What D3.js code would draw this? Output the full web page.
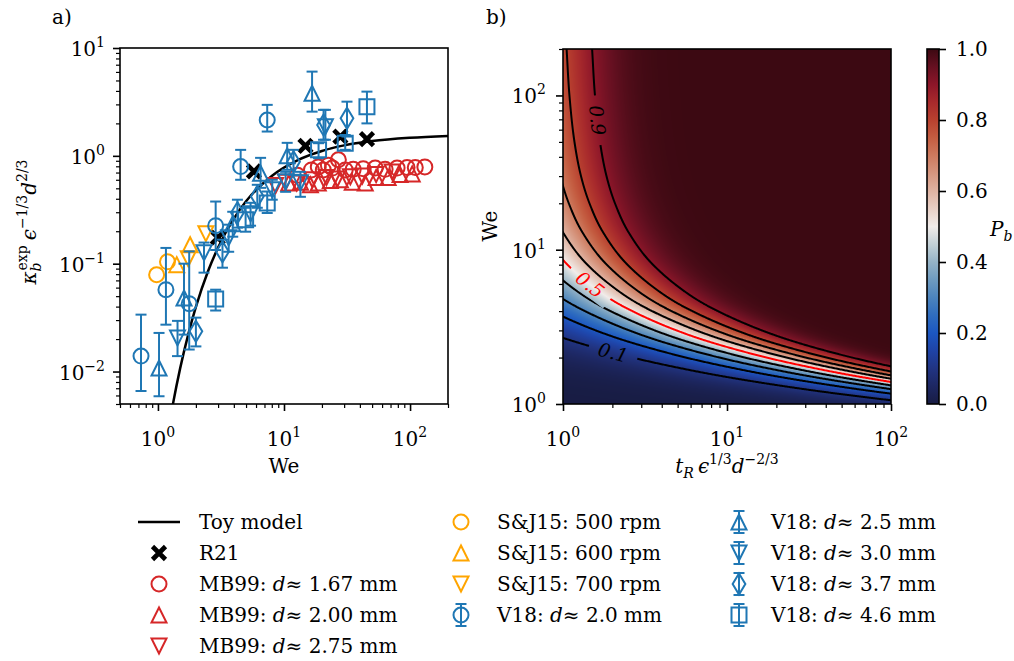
<!DOCTYPE html>
<html>
<head>
<meta charset="utf-8">
<title>Break-up rate and probability</title>
<script src="https://cdn.jsdelivr.net/npm/d3@7"></script>
<style>
  body { margin: 0; background: #fff; }
  svg text { font-family: "DejaVu Serif", "Liberation Serif", serif; fill: #000; }
</style>
</head>
<body>
<svg id="fig" width="1014" height="661" font-family="DejaVu Serif, Liberation Serif, serif"></svg>
<script>
// ---- data ----

// toy model: kappa_b eps^-1/3 d^2/3 against We (black curve)
var toyWe    = [1.0, 1.1, 1.25, 1.5, 1.75, 2, 2.5, 3, 4, 5, 8, 13, 20, 30, 50, 100, 200];
var toyKappa = [0.00066, 0.00144, 0.0036, 0.0107, 0.0227, 0.0397, 0.0855, 0.141, 0.262, 0.379, 0.651, 0.918, 1.11, 1.25, 1.37, 1.47, 1.53];

// R21
var r21 = [[2.98, 0.174], [5.77, 0.716], [14.8, 1.24], [28.0, 1.51], [45.5, 1.43]];

// MB99
var mb167 = [[12.8, 0.66], [16.5, 0.74], [18.7, 0.79], [20.5, 0.74], [22.5, 0.82], [24.2, 0.77], [27.0, 0.92],
             [30.6, 0.74], [35.4, 0.75], [42.5, 0.76], [52.9, 0.77], [63.4, 0.75], [78.9, 0.77], [94.7, 0.78],
             [110, 0.78], [131, 0.79]];
var mb200 = [[10.9, 0.56], [13.5, 0.57], [16.2, 0.54], [18.7, 0.56], [23.3, 0.59], [28.0, 0.60], [34.8, 0.57],
             [44.1, 0.56], [53.8, 0.63], [67.0, 0.63], [83.4, 0.67], [104, 0.68]];
var mb275 = [[8.57, 0.53], [10.3, 0.57], [12.6, 0.56], [16.8, 0.60], [21.7, 0.63], [26.5, 0.61], [33.6, 0.64],
             [41.8, 0.65], [53.8, 0.67], [72.1, 0.71]];

// S&J15
var sj500 = [[0.976, 0.079], [1.19, 0.104]];
var sj600 = [[1.41, 0.098], [1.80, 0.150]];
var sj700 = [[1.74, 0.111], [2.40, 0.19]];

// V18: [We, value, lower, upper]
var v18d20 = [[0.734, 0.0139, 0.0066, 0.0337], [1.157, 0.0574, 0.0272, 0.140], [1.77, 0.0426, 0.0160, 0.130],
              [2.87, 0.225, 0.134, 0.377], [4.53, 0.796, 0.600, 1.136], [7.36, 2.15, 1.68, 2.97]];
var v18d25 = [[1.02, 0.0108, 0.0059, 0.0228], [1.61, 0.0481, 0.0220, 0.100], [3.92, 0.235, 0.178, 0.303],
              [6.52, 0.69, 0.505, 0.958], [10.6, 1.0, 0.742, 1.32], [16.7, 3.81, 2.57, 6.04]];
var v18d30 = [[1.43, 0.0205, 0.0139, 0.0295], [2.32, 0.126, 0.0826, 0.157], [3.64, 0.174, 0.129, 0.230],
              [5.43, 0.29, 0.225, 0.367], [8.07, 0.484, 0.392, 0.60], [10.3, 0.574, 0.464, 0.711],
              [13.5, 0.562, 0.417, 0.711], [21.3, 1.86, 1.41, 2.67]];
var v18d37 = [[2.0, 0.0236, 0.0171, 0.0316], [3.25, 0.129, 0.0918, 0.167], [4.27, 0.297, 0.216, 0.392],
              [6.14, 0.42, 0.33, 0.539], [11.9, 0.88, 0.667, 1.137], [20.6, 1.93, 1.41, 2.67], [31.6, 2.23, 1.51, 3.18]];
var v18d46 = [[2.87, 0.0471, 0.0368, 0.0574], [4.96, 0.255, 0.198, 0.33], [7.36, 0.365, 0.295, 0.467],
              [18.8, 1.137, 0.95, 1.31], [30.6, 1.31, 1.137, 1.56], [45.5, 2.86, 2.0, 3.94]];

// contour levels of P_b and where their labels sit
var levels = [0.1, 0.2, 0.3, 0.4, 0.5, 0.6, 0.7, 0.8, 0.9];
var labelAt = [{p: 0.1, t: 2.02}, {p: 0.5, t: 1.46}, {p: 0.9, we: 69}];
var cbTicks = [0, 0.2, 0.4, 0.6, 0.8, 1.0];

// diverging colormap (balance-like)
var cmapStops  = [0, .05, .1, .15, .2, .25, .3, .35, .4, .45, .5, .55, .6, .65, .7, .75, .8, .85, .9, .95, 1];
var cmapColors = ["#181c43", "#1d2762", "#213482", "#1f43a6", "#1c57c2", "#2f6dbf", "#4c84bd", "#6e9bc0",
                  "#95b3c6", "#c3d1d7", "#f1ecea", "#e8d0c6", "#dfb3a2", "#d6967f", "#cd7a5e", "#c45d41",
                  "#b9412f", "#a82a2c", "#8d1629", "#661021", "#3c0912"];

var BLUE = "#1f77b4", RED = "#d62728", ORANGE = "#ffa500";
var FONT = "DejaVu Serif, Liberation Serif, serif";

// ---- setup ----
var svg = d3.select("#fig");
svg.append("rect").attr("width", 1014).attr("height", 661).attr("fill", "#fff");

var L  = {x0: 120, x1: 448, y0: 48, y1: 404};
var R  = {x0: 563, x1: 891, y0: 49, y1: 404};
var CB = {x0: 927, x1: 939, y0: 49, y1: 404};

var xL = d3.scaleLog().domain([0.5, 200]).range([L.x0, L.x1]);
var yL = d3.scaleLog().domain([0.005, 10]).range([L.y1, L.y0]);
var xR = d3.scaleLog().domain([1, 100]).range([R.x0, R.x1]);
var yR = d3.scaleLog().domain([1, 200]).range([R.y1, R.y0]);
var cbY = d3.scaleLinear().domain([0, 1]).range([CB.y1, CB.y0]);
var cmap = d3.scaleLinear().domain(cmapStops).range(cmapColors).clamp(true);

var defs = svg.append("defs");

// monotone cubic in log-log space through the toy-model points
function monotone(xs, ys) {
  var n = xs.length, d = [], m = [], i;
  for (i = 0; i < n - 1; i++) d[i] = (ys[i + 1] - ys[i]) / (xs[i + 1] - xs[i]);
  m[0] = d[0]; m[n - 1] = d[n - 2];
  for (i = 1; i < n - 1; i++) m[i] = d[i - 1] * d[i] <= 0 ? 0 : (d[i - 1] + d[i]) / 2;
  for (i = 0; i < n - 1; i++) {
    var a = m[i] / d[i], b = m[i + 1] / d[i], s = a * a + b * b;
    if (s > 9) { var tt = 3 / Math.sqrt(s); m[i] = tt * a * d[i]; m[i + 1] = tt * b * d[i]; }
  }
  return function(x) {
    if (x <= xs[0]) return ys[0] + m[0] * (x - xs[0]);
    if (x >= xs[n - 1]) return ys[n - 1] + m[n - 1] * (x - xs[n - 1]);
    var k = d3.bisectRight(xs, x) - 1, h = xs[k + 1] - xs[k], t = (x - xs[k]) / h, t2 = t * t, t3 = t2 * t;
    return (2 * t3 - 3 * t2 + 1) * ys[k] + (t3 - 2 * t2 + t) * h * m[k] +
           (-2 * t3 + 3 * t2) * ys[k + 1] + (t3 - t2) * h * m[k + 1];
  };
}
var logK = monotone(toyWe.map(Math.log10), toyKappa.map(Math.log10));
function kappa(we) { return Math.pow(10, logK(Math.log10(we))); }

function isPow(v) { var l = Math.log10(v); return Math.abs(l - Math.round(l)) < 1e-6; }

function ticks(scale, orient, x, y) {
  var all = scale.ticks(), maj = all.filter(isPow), mnr = all.filter(function(v) { return !isPow(v); });
  var mk = orient === "bottom" ? d3.axisBottom : d3.axisLeft;
  [[maj, 7, 1.6], [mnr, 4, 1.2]].forEach(function(s) {
    var g = svg.append("g").attr("transform", "translate(" + x + "," + y + ")")
      .call(mk(scale).tickValues(s[0]).tickSize(s[1]).tickSizeOuter(0).tickFormat(""));
    g.select(".domain").remove();
    g.selectAll("line").attr("stroke", "#000").attr("stroke-width", s[2]);
  });
  return maj;
}

function txt(x, y) {
  return svg.append("text").attr("x", x).attr("y", y).attr("font-size", 20).attr("font-family", FONT);
}

function powLabel(x, y, anchor, v) {
  var e = Math.round(Math.log10(v));
  var t = txt(x, y).attr("text-anchor", anchor);
  t.append("tspan").text("10");
  t.append("tspan").attr("dy", -9).attr("font-size", 14).text(String(e).replace("-", "\u2212"));
}

function markerPath(type, m) {
  var s = m / 2;
  if (type === "o") return "M" + s + ",0A" + s + "," + s + " 0 1,1 " + (-s) + ",0A" + s + "," + s + " 0 1,1 " + s + ",0Z";
  if (type === "^") return "M0," + (-s) + "L" + s + "," + s + "L" + (-s) + "," + s + "Z";
  if (type === "v") return "M0," + s + "L" + s + "," + (-s) + "L" + (-s) + "," + (-s) + "Z";
  if (type === "d") { var h = s * 1.414, w = h * 0.6; return "M0," + (-h) + "L" + w + ",0L0," + h + "L" + (-w) + ",0Z"; }
  if (type === "s") return "M" + (-s) + "," + (-s) + "H" + s + "V" + s + "H" + (-s) + "Z";
  if (type === "x") { var a = 6.5; return "M" + (-a) + "," + (-a) + "L" + a + "," + a + "M" + (-a) + "," + a + "L" + a + "," + (-a); }
}

function drawMarker(g, type, color, x, y) {
  g.append("path").attr("transform", "translate(" + x + "," + y + ")")
    .attr("d", markerPath(type, 15))
    .attr("fill", "none").attr("stroke", color)
    .attr("stroke-width", type === "x" ? 4.6 : 2);
}

function errBar(g, color, x, yTop, yBot) {
  g.append("line").attr("x1", x).attr("x2", x).attr("y1", yTop).attr("y2", yBot);
  g.append("line").attr("x1", x - 5.5).attr("x2", x + 5.5).attr("y1", yTop).attr("y2", yTop);
  g.append("line").attr("x1", x - 5.5).attr("x2", x + 5.5).attr("y1", yBot).attr("y2", yBot);
  g.selectAll("line").attr("stroke", color).attr("stroke-width", 2);
}

// ---- panel a ----
defs.append("clipPath").attr("id", "clipL").append("rect")
  .attr("x", L.x0).attr("y", L.y0).attr("width", L.x1 - L.x0).attr("height", L.y1 - L.y0);
var gL = svg.append("g").attr("clip-path", "url(#clipL)");

var toyPts = toyWe.map(function(w, i) { return [w, toyKappa[i]]; });
gL.append("path").datum(toyPts)
  .attr("d", d3.line().x(function(d) { return xL(d[0]); }).y(function(d) { return yL(d[1]); }).curve(d3.curveMonotoneX))
  .attr("fill", "none").attr("stroke", "#000").attr("stroke-width", 2.5);

var plain = [[r21, "x", "#000"], [mb167, "o", RED], [mb200, "^", RED], [mb275, "v", RED],
             [sj500, "o", ORANGE], [sj600, "^", ORANGE], [sj700, "v", ORANGE]];
plain.forEach(function(s) {
  s[0].forEach(function(d) { drawMarker(gL, s[1], s[2], xL(d[0]), yL(d[1])); });
});
var bars = [[v18d20, "o"], [v18d25, "^"], [v18d30, "v"], [v18d37, "d"], [v18d46, "s"]];
bars.forEach(function(s) {
  s[0].forEach(function(d) {
    var g = gL.append("g");
    errBar(g, BLUE, xL(d[0]), yL(d[3]), yL(d[2]));
    drawMarker(g, s[1], BLUE, xL(d[0]), yL(d[1]));
  });
});

ticks(xL, "bottom", 0, L.y1).forEach(function(v) { powLabel(xL(v), 446, "middle", v); });
ticks(yL, "left", L.x0, 0).forEach(function(v) { powLabel(L.x0 - 15, yL(v) + 8, "end", v); });
svg.append("rect").attr("x", L.x0).attr("y", L.y0).attr("width", L.x1 - L.x0).attr("height", L.y1 - L.y0)
  .attr("fill", "none").attr("stroke", "#000").attr("stroke-width", 1.6);

txt((L.x0 + L.x1) / 2, 473).attr("text-anchor", "middle").text("We");
var yl = txt(0, 0).attr("transform", "translate(36,222) rotate(-90)").attr("text-anchor", "middle");
yl.append("tspan").attr("font-style", "italic").text("\u03ba");
yl.append("tspan").attr("font-style", "italic").attr("font-size", 14).attr("dy", 5).text("b");
yl.append("tspan").attr("font-size", 14).attr("dx", -8).attr("dy", -14).text("exp");
yl.append("tspan").attr("font-style", "italic").attr("dx", 5).attr("dy", 9).text("\u03f5");
yl.append("tspan").attr("font-size", 14).attr("dy", -9).text("\u22121/3");
yl.append("tspan").attr("font-style", "italic").attr("dy", 9).text("d");
yl.append("tspan").attr("font-size", 14).attr("dy", -9).text("2/3");

txt(52, 24).text("a)");

// ---- panel b ----
var W = R.x1 - R.x0, H = R.y1 - R.y0;
var canvas = document.createElement("canvas");
canvas.width = W; canvas.height = H;
var ctx = canvas.getContext("2d");
var img = ctx.createImageData(W, H);
var lut = d3.range(1025).map(function(i) { return d3.rgb(cmap(i / 1024)); });
for (var j = 0; j < H; j++) {
  var kj = kappa(yR.invert(R.y0 + j + 0.5));
  for (var i = 0; i < W; i++) {
    var P = 1 - Math.exp(-kj * xR.invert(R.x0 + i + 0.5));
    var c = lut[Math.round(P * 1024)], o = 4 * (j * W + i);
    img.data[o] = c.r; img.data[o + 1] = c.g; img.data[o + 2] = c.b; img.data[o + 3] = 255;
  }
}
ctx.putImageData(img, 0, 0);
svg.append("image").attr("x", R.x0).attr("y", R.y0).attr("width", W).attr("height", H)
  .attr("preserveAspectRatio", "none").attr("href", canvas.toDataURL());

// contour lines
var pad = 3, nx = W + 2 * pad, ny = H + 2 * pad, vals = new Float64Array(nx * ny);
for (var jj = 0; jj < ny; jj++) {
  var kk = kappa(yR.invert(R.y0 - pad + jj + 0.5));
  for (var ii = 0; ii < nx; ii++) vals[jj * nx + ii] = 1 - Math.exp(-kk * xR.invert(R.x0 - pad + ii + 0.5));
}
var cs = d3.contours().size([nx, ny]).thresholds(levels)(vals);

// label positions on the contours
function weOn(p, t) {
  var target = Math.log10(-Math.log(1 - p) / t), lo = -0.5, hi = 3;
  for (var n = 0; n < 60; n++) { var mid = (lo + hi) / 2; if (logK(mid) < target) lo = mid; else hi = mid; }
  return Math.pow(10, (lo + hi) / 2);
}
var labels = labelAt.map(function(l) {
  var t = l.t !== undefined ? l.t : -Math.log(1 - l.p) / kappa(l.we);
  var x = xR(t), y = yR(weOn(l.p, t)), x2 = xR(t * 1.02), y2 = yR(weOn(l.p, t * 1.02));
  var ang = Math.atan2(y2 - y, x2 - x) * 180 / Math.PI;
  if (ang > 90) ang -= 180; if (ang < -90) ang += 180;
  return {p: l.p, x: x, y: y, ang: ang};
});

defs.append("clipPath").attr("id", "clipR").append("rect")
  .attr("x", R.x0).attr("y", R.y0).attr("width", W).attr("height", H);
var mask = defs.append("mask").attr("id", "gaps").attr("maskUnits", "userSpaceOnUse")
  .attr("x", 0).attr("y", 0).attr("width", 1014).attr("height", 661);
mask.append("rect").attr("width", 1014).attr("height", 661).attr("fill", "#fff");
labels.forEach(function(l) {
  mask.append("rect").attr("x", -25).attr("y", -11).attr("width", 50).attr("height", 22).attr("fill", "#000")
    .attr("transform", "translate(" + l.x + "," + l.y + ") rotate(" + l.ang + ")");
});

var gR = svg.append("g").attr("clip-path", "url(#clipR)").append("g").attr("mask", "url(#gaps)");
gR.selectAll("path").data(cs).join("path")
  .attr("transform", "translate(" + (R.x0 - pad) + "," + (R.y0 - pad) + ")")
  .attr("d", d3.geoPath())
  .attr("fill", "none")
  .attr("stroke", function(d) { return Math.abs(d.value - 0.5) < 1e-9 ? "#ff0000" : "#000"; })
  .attr("stroke-width", 2);

labels.forEach(function(l) {
  txt(0, 0).attr("transform", "translate(" + l.x + "," + l.y + ") rotate(" + l.ang + ")")
    .attr("text-anchor", "middle").attr("dy", "0.35em").attr("font-size", 19).attr("font-style", "italic")
    .style("fill", l.p === 0.5 ? "#ff0000" : "#000").text(l.p.toFixed(1));
});

ticks(xR, "bottom", 0, R.y1).forEach(function(v) { powLabel(xR(v), 446, "middle", v); });
ticks(yR, "left", R.x0, 0).forEach(function(v) { powLabel(R.x0 - 17, yR(v) + 8, "end", v); });
svg.append("rect").attr("x", R.x0).attr("y", R.y0).attr("width", W).attr("height", H)
  .attr("fill", "none").attr("stroke", "#000").attr("stroke-width", 1.6);

var xl = txt((R.x0 + R.x1) / 2, 473).attr("text-anchor", "middle");
xl.append("tspan").attr("font-style", "italic").text("t");
xl.append("tspan").attr("font-style", "italic").attr("font-size", 14).attr("dy", 5).text("R");
xl.append("tspan").attr("font-style", "italic").attr("dx", 4).attr("dy", -5).text("\u03f5");
xl.append("tspan").attr("font-size", 14).attr("dy", -9).text("1/3");
xl.append("tspan").attr("font-style", "italic").attr("dy", 9).text("d");
xl.append("tspan").attr("font-size", 14).attr("dy", -9).text("\u22122/3");

txt(0, 0).attr("transform", "translate(497,226) rotate(-90)").attr("text-anchor", "middle").text("We");
txt(486, 24).text("b)");

// ---- colorbar ----
var grad = defs.append("linearGradient").attr("id", "cbGrad").attr("x1", 0).attr("y1", 1).attr("x2", 0).attr("y2", 0);
cmapStops.forEach(function(s, i) { grad.append("stop").attr("offset", s).attr("stop-color", cmapColors[i]); });
svg.append("rect").attr("x", CB.x0).attr("y", CB.y0).attr("width", CB.x1 - CB.x0).attr("height", CB.y1 - CB.y0)
  .attr("fill", "url(#cbGrad)").attr("stroke", "#000").attr("stroke-width", 1.6);
var gcb = svg.append("g").attr("transform", "translate(" + CB.x1 + ",0)")
  .call(d3.axisRight(cbY).tickValues(cbTicks).tickSize(7).tickSizeOuter(0).tickFormat(""));
gcb.select(".domain").remove();
gcb.selectAll("line").attr("stroke", "#000").attr("stroke-width", 1.6);
cbTicks.forEach(function(v) { txt(956, cbY(v) + 7).text(v.toFixed(1)); });
var pb = txt(990, 236);
pb.append("tspan").attr("font-style", "italic").text("P");
pb.append("tspan").attr("font-style", "italic").attr("font-size", 14).attr("dy", 5).text("b");

// ---- legend ----
var legRows = [522, 553, 584, 615, 646];
var legend = [
  {col: 0, row: 0, kind: "line", label: ["Toy model"]},
  {col: 0, row: 1, kind: "x", color: "#000", label: ["R21"]},
  {col: 0, row: 2, kind: "o", color: RED, label: ["MB99: ", "d", "\u2248 1.67 mm"]},
  {col: 0, row: 3, kind: "^", color: RED, label: ["MB99: ", "d", "\u2248 2.00 mm"]},
  {col: 0, row: 4, kind: "v", color: RED, label: ["MB99: ", "d", "\u2248 2.75 mm"]},
  {col: 1, row: 0, kind: "o", color: ORANGE, label: ["S&J15: 500 rpm"]},
  {col: 1, row: 1, kind: "^", color: ORANGE, label: ["S&J15: 600 rpm"]},
  {col: 1, row: 2, kind: "v", color: ORANGE, label: ["S&J15: 700 rpm"]},
  {col: 1, row: 3, kind: "o", color: BLUE, bar: true, label: ["V18: ", "d", "\u2248 2.0 mm"]},
  {col: 2, row: 0, kind: "^", color: BLUE, bar: true, label: ["V18: ", "d", "\u2248 2.5 mm"]},
  {col: 2, row: 1, kind: "v", color: BLUE, bar: true, label: ["V18: ", "d", "\u2248 3.0 mm"]},
  {col: 2, row: 2, kind: "d", color: BLUE, bar: true, label: ["V18: ", "d", "\u2248 3.7 mm"]},
  {col: 2, row: 3, kind: "s", color: BLUE, bar: true, label: ["V18: ", "d", "\u2248 4.6 mm"]}
];
var colHandle = [159, 461, 739], colText = [199, 497, 771];
var gLeg = svg.append("g");
legend.forEach(function(e) {
  var hx = colHandle[e.col], y = legRows[e.row];
  if (e.kind === "line") {
    gLeg.append("line").attr("x1", hx - 21).attr("x2", hx + 21).attr("y1", y).attr("y2", y)
      .attr("stroke", "#000").attr("stroke-width", 2.5);
  } else {
    var g = gLeg.append("g");
    if (e.bar) errBar(g, e.color, hx, y - 11, y + 11);
    drawMarker(g, e.kind, e.color, hx, y);
  }
  var t = txt(colText[e.col], y + 7);
  e.label.forEach(function(s, i) {
    var sp = t.append("tspan").text(s);
    if (i === 1) sp.attr("font-style", "italic");
  });
});
</script>
</body>
</html>
